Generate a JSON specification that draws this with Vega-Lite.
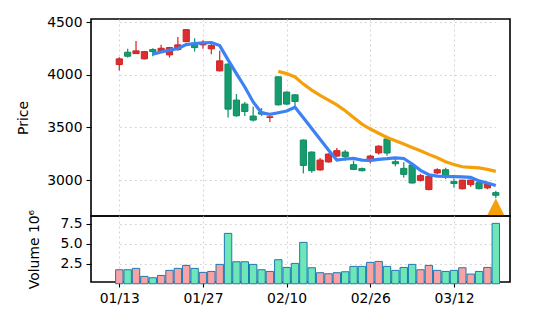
{
  "$schema": "https://vega.github.io/schema/vega-lite/v6.json",
  "padding": {"left": 15, "top": 14, "right": 0, "bottom": 0},
  "background": "white",
  "spacing": 0,
  "bounds": "flush",
  "config": {
    "font": "DejaVu Sans",
    "view": {"stroke": "#000000", "strokeWidth": 1.6},
    "axis": {
      "labelFont": "DejaVu Sans", "labelFontSize": 13.9, "labelColor": "#000000",
      "titleFont": "DejaVu Sans", "titleFontSize": 13.9, "titleFontWeight": "normal", "titleColor": "#000000",
      "tickColor": "#000000", "tickSize": 5, "tickWidth": 1.1, "labelPadding": 4,
      "domain": false,
      "gridColor": "#d6d6d6", "gridDash": [2, 3], "gridWidth": 1.1
    }
  },
  "datasets": {
    "k": [
      {"date": "01/13", "open": 4098, "high": 4168, "low": 4041, "close": 4152, "volume": 1.75},
      {"date": "01/14", "open": 4215, "high": 4247, "low": 4164, "close": 4177, "volume": 1.75},
      {"date": "01/15", "open": 4202, "high": 4323, "low": 4198, "close": 4228, "volume": 1.92},
      {"date": "01/16", "open": 4152, "high": 4228, "low": 4147, "close": 4221, "volume": 0.92},
      {"date": "01/17", "open": 4240, "high": 4253, "low": 4177, "close": 4221, "volume": 0.75, "ma5": 4197},
      {"date": "01/20", "open": 4228, "high": 4285, "low": 4224, "close": 4253, "volume": 1.04, "ma5": 4217},
      {"date": "01/21", "open": 4190, "high": 4266, "low": 4164, "close": 4259, "volume": 1.67, "ma5": 4235},
      {"date": "01/22", "open": 4240, "high": 4361, "low": 4228, "close": 4285, "volume": 1.92, "ma5": 4250},
      {"date": "01/23", "open": 4316, "high": 4437, "low": 4310, "close": 4430, "volume": 2.29, "ma5": 4288},
      {"date": "01/24", "open": 4297, "high": 4348, "low": 4221, "close": 4259, "volume": 1.92, "ma5": 4298},
      {"date": "01/27", "open": 4285, "high": 4329, "low": 4247, "close": 4304, "volume": 1.42, "ma5": 4305},
      {"date": "01/28", "open": 4247, "high": 4297, "low": 4196, "close": 4278, "volume": 1.54, "ma5": 4307},
      {"date": "01/29", "open": 4038, "high": 4228, "low": 4031, "close": 4133, "volume": 2.42, "ma5": 4278},
      {"date": "01/30", "open": 4102, "high": 4107, "low": 3595, "close": 3674, "volume": 6.29, "ma5": 4142},
      {"date": "01/31", "open": 3760, "high": 3817, "low": 3601, "close": 3611, "volume": 2.75, "ma5": 4012},
      {"date": "02/03", "open": 3722, "high": 3741, "low": 3608, "close": 3652, "volume": 2.75, "ma5": 3885},
      {"date": "02/04", "open": 3608, "high": 3696, "low": 3557, "close": 3570, "volume": 2.42, "ma5": 3742},
      {"date": "02/05", "open": 3646, "high": 3684, "low": 3608, "close": 3627, "volume": 1.75, "ma5": 3640},
      {"date": "02/06", "open": 3595, "high": 3601, "low": 3551, "close": 3601, "volume": 1.54, "ma5": 3624},
      {"date": "02/07", "open": 3981, "high": 3988, "low": 3709, "close": 3715, "volume": 3.0, "ma5": 3640, "ma20": 4033},
      {"date": "02/10", "open": 3836, "high": 3842, "low": 3715, "close": 3722, "volume": 2.04, "ma5": 3656, "ma20": 4012},
      {"date": "02/11", "open": 3810, "high": 3817, "low": 3690, "close": 3747, "volume": 2.54, "ma5": 3692, "ma20": 3980},
      {"date": "02/12", "open": 3380, "high": 3386, "low": 3063, "close": 3139, "volume": 5.17, "ma5": 3592, "ma20": 3912},
      {"date": "02/13", "open": 3266, "high": 3272, "low": 3070, "close": 3089, "volume": 2.0, "ma5": 3490, "ma20": 3855},
      {"date": "02/14", "open": 3096, "high": 3209, "low": 3089, "close": 3190, "volume": 1.38, "ma5": 3388, "ma20": 3804},
      {"date": "02/19", "open": 3172, "high": 3253, "low": 3165, "close": 3247, "volume": 1.25, "ma5": 3286, "ma20": 3760},
      {"date": "02/20", "open": 3228, "high": 3304, "low": 3222, "close": 3279, "volume": 1.38, "ma5": 3190, "ma20": 3715},
      {"date": "02/21", "open": 3266, "high": 3285, "low": 3184, "close": 3222, "volume": 1.5, "ma5": 3200, "ma20": 3658},
      {"date": "02/24", "open": 3146, "high": 3184, "low": 3096, "close": 3101, "volume": 2.17, "ma5": 3205, "ma20": 3595},
      {"date": "02/25", "open": 3108, "high": 3120, "low": 3082, "close": 3089, "volume": 2.17, "ma5": 3190, "ma20": 3532},
      {"date": "02/26", "open": 3184, "high": 3241, "low": 3158, "close": 3228, "volume": 2.67, "ma5": 3187, "ma20": 3485},
      {"date": "02/27", "open": 3258, "high": 3331, "low": 3242, "close": 3322, "volume": 2.79, "ma5": 3197, "ma20": 3445},
      {"date": "02/28", "open": 3390, "high": 3421, "low": 3231, "close": 3257, "volume": 2.17, "ma5": 3203, "ma20": 3405},
      {"date": "03/03", "open": 3174, "high": 3200, "low": 3130, "close": 3155, "volume": 1.67, "ma5": 3211, "ma20": 3374},
      {"date": "03/04", "open": 3111, "high": 3168, "low": 3023, "close": 3054, "volume": 2.04, "ma5": 3205, "ma20": 3342},
      {"date": "03/05", "open": 3143, "high": 3146, "low": 2966, "close": 2972, "volume": 2.42, "ma5": 3152, "ma20": 3310},
      {"date": "03/06", "open": 2997, "high": 3060, "low": 2985, "close": 3042, "volume": 1.75, "ma5": 3092, "ma20": 3279},
      {"date": "03/07", "open": 2909, "high": 3042, "low": 2902, "close": 3035, "volume": 2.29, "ma5": 3050, "ma20": 3244},
      {"date": "03/10", "open": 3067, "high": 3111, "low": 3054, "close": 3098, "volume": 1.67, "ma5": 3037, "ma20": 3212},
      {"date": "03/11", "open": 3098, "high": 3117, "low": 3010, "close": 3035, "volume": 1.54, "ma5": 3034, "ma20": 3174},
      {"date": "03/12", "open": 2985, "high": 3015, "low": 2926, "close": 2967, "volume": 1.67, "ma5": 3033, "ma20": 3148},
      {"date": "03/13", "open": 2917, "high": 3003, "low": 2910, "close": 2999, "volume": 2.0, "ma5": 3030, "ma20": 3126},
      {"date": "03/14", "open": 2956, "high": 3003, "low": 2937, "close": 3000, "volume": 1.21, "ma5": 3026, "ma20": 3120},
      {"date": "03/17", "open": 2975, "high": 2994, "low": 2912, "close": 2918, "volume": 1.54, "ma5": 2992, "ma20": 3115},
      {"date": "03/18", "open": 2925, "high": 2969, "low": 2912, "close": 2963, "volume": 2.04, "ma5": 2972, "ma20": 3101},
      {"date": "03/19", "open": 2880, "high": 2899, "low": 2830, "close": 2855, "volume": 7.54, "ma5": 2948, "ma20": 3082, "signal": 2745}
    ]
  },
  "vconcat": [
    {
      "width": 419,
      "height": 197,
      "data": {"name": "k"},
      "encoding": {
        "x": {
          "field": "date", "type": "ordinal", "sort": null,
          "scale": {"type": "point", "padding": 0, "range": [28.3, 404.8]},
          "axis": {"values": ["01/13", "01/27", "02/10", "02/26", "03/12"], "labels": false, "ticks": false, "title": null, "grid": true, "minExtent": 0, "maxExtent": 0}
        }
      },
      "layer": [
        {
          "mark": {"type": "rule", "strokeWidth": 1.3},
          "encoding": {
            "y": {"field": "low", "type": "quantitative", "scale": {"domain": [2658, 4531], "nice": false, "zero": false},
              "axis": {"values": [3000, 3500, 4000, 4500], "format": "d", "title": "Price", "titleX": -68, "titleBaseline": "middle", "grid": true}},
            "y2": {"field": "high"},
            "color": {"condition": {"test": "datum.close >= datum.open", "value": "#dd2e2e"}, "value": "#149c6e"}
          }
        },
        {
          "mark": {"type": "bar", "size": 6.2, "strokeWidth": 1},
          "encoding": {
            "y": {"field": "open", "type": "quantitative"},
            "y2": {"field": "close"},
            "fill": {"condition": {"test": "datum.close >= datum.open", "value": "#dd2e2e"}, "value": "#149c6e"},
            "stroke": {"condition": {"test": "datum.close >= datum.open", "value": "#c82424"}, "value": "#108a60"}
          }
        },
        {
          "transform": [{"filter": "isValid(datum.ma5)"}],
          "mark": {"type": "line", "color": "#3c82f5", "strokeWidth": 3.2},
          "encoding": {"y": {"field": "ma5", "type": "quantitative"}}
        },
        {
          "transform": [{"filter": "isValid(datum.ma20)"}],
          "mark": {"type": "line", "color": "#f5a00a", "strokeWidth": 3.2},
          "encoding": {"y": {"field": "ma20", "type": "quantitative"}}
        },
        {
          "transform": [{"filter": "isValid(datum.signal)"}],
          "mark": {"type": "point", "shape": "M0,-1L-1,1L1,1Z", "filled": true, "opacity": 1, "color": "#f5a00a", "size": 300, "clip": true},
          "encoding": {"y": {"field": "signal", "type": "quantitative"}}
        }
      ]
    },
    {
      "width": 419,
      "height": 66,
      "data": {"name": "k"},
      "mark": {"type": "bar", "size": 7.4, "stroke": "#1f77b4", "strokeWidth": 1},
      "encoding": {
        "x": {
          "field": "date", "type": "ordinal", "sort": null,
          "scale": {"type": "point", "padding": 0, "range": [28.3, 404.8]},
          "axis": {"values": ["01/13", "01/27", "02/10", "02/26", "03/12"], "labelAngle": 0, "title": null, "grid": true}
        },
        "y": {"field": "volume", "type": "quantitative", "scale": {"domain": [0.22, 8.46], "nice": false, "zero": false},
          "axis": {"values": [2.5, 5, 7.5], "format": ".1f", "title": "Volume  10⁶", "titleX": -57, "titleBaseline": "middle", "grid": true}},
        "fill": {"condition": {"test": "datum.close >= datum.open", "value": "#f7a3a3"}, "value": "#6de6b8"}
      }
    }
  ]
}
